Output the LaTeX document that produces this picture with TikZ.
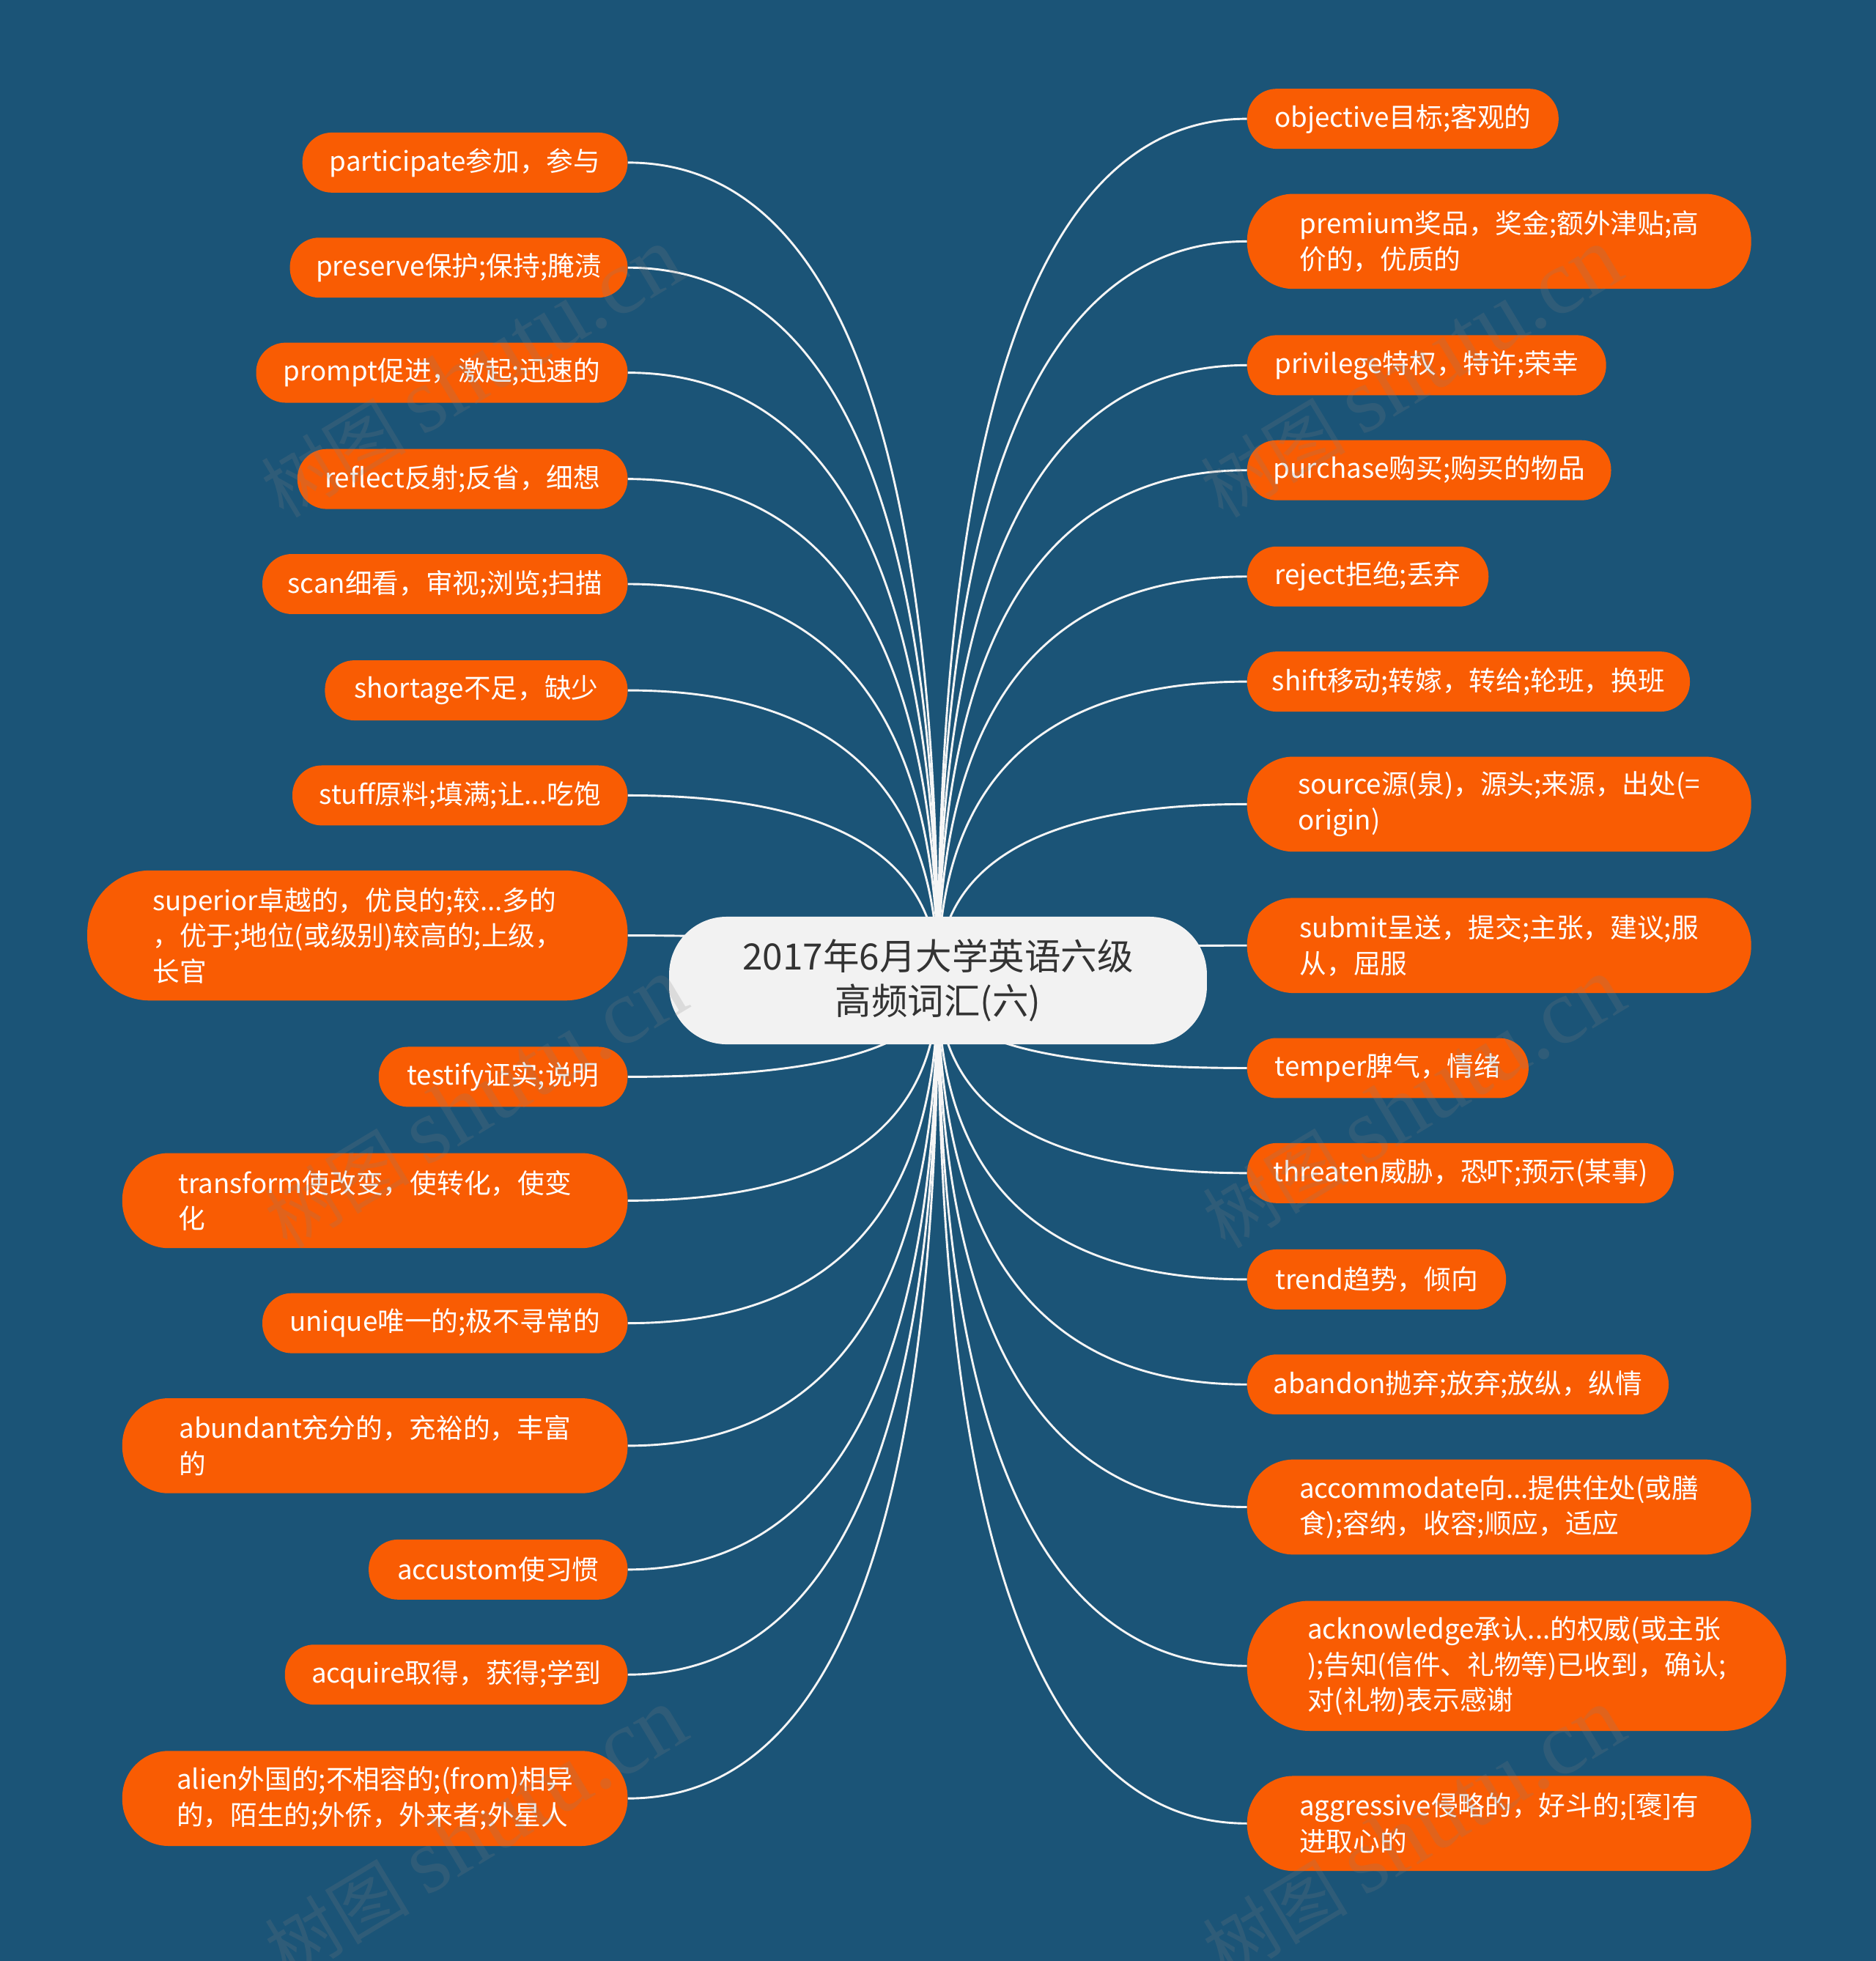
\documentclass[tikz,border=0pt]{standalone}
\usepackage{fontspec}
\setmainfont{Noto Sans CJK SC}
\newfontfamily\wmserif{Liberation Serif}
\usetikzlibrary{calc}
\definecolor{bgblue}{HTML}{1B5477}
\definecolor{leaforange}{HTML}{F95C03}
\definecolor{rootgray}{HTML}{F2F2F2}
\definecolor{roottext}{HTML}{333333}
\definecolor{linecol}{HTML}{F5F5F5}
\pgfdeclarelayer{bglayer}
\pgfdeclarelayer{edgelayer}
\pgfsetlayers{bglayer,edgelayer,main}
\begin{document}
\begin{tikzpicture}[x=1pt,y=-1pt,
  leaf/.style={fill=leaforange, text=white, inner sep=0pt, align=left,
    font=\fontsize{21.5}{28.5}\selectfont},
  one/.style={leaf, minimum height=48pt, rounded corners=23.5pt},
  two/.style={leaf, minimum height=76pt, rounded corners=37pt},
  three/.style={leaf, minimum height=104pt, rounded corners=50pt},
  root/.style={fill=rootgray, text=roottext, inner sep=0pt, align=center,
    minimum width=430pt, minimum height=102pt, rounded corners=46pt,
    font=\fontsize{29}{36}\selectfont},
  link/.style={draw=linecol, line width=1.7pt},
  wm/.style={text=gray, opacity=0.2, inner sep=0pt, font=\fontsize{58}{64}\selectfont}
]
\useasboundingbox (0,0) rectangle (1500,1568);
\begin{pgfonlayer}{bglayer}
\fill[bgblue] (0,0) rectangle (1500,1568);
\end{pgfonlayer}

\node[root] (root) at (750,784) {2017年6月大学英语六级\\高频词汇(六)};

% left nodes
\node[one, minimum width=260pt, anchor=east] (L1) at (502,130) {participate参加，参与};
\node[one, minimum width=270pt, anchor=east] (L2) at (502,214) {preserve保护;保持;腌渍};
\node[one, minimum width=297pt, anchor=east] (L3) at (502,298) {prompt促进，激起;迅速的};
\node[one, minimum width=264pt, anchor=east] (L4) at (502,383) {reflect反射;反省，细想};
\node[one, minimum width=292pt, anchor=east] (L5) at (502,467) {scan细看，审视;浏览;扫描};
\node[one, minimum width=242pt, anchor=east] (L6) at (502,552) {shortage不足，缺少};
\node[one, minimum width=268pt, anchor=east] (L7) at (502,636) {stuff原料;填满;让...吃饱};
\node[three, minimum width=432pt, anchor=east] (L8) at (502,748) {superior卓越的，优良的;较...多的\\，优于;地位(或级别)较高的;上级，\\长官};
\node[one, minimum width=199pt, anchor=east] (L9) at (502,861) {testify证实;说明};
\node[two, minimum width=404pt, anchor=east] (L10) at (502,960) {transform使改变，使转化，使变\\化};
\node[one, minimum width=292pt, anchor=east] (L11) at (502,1058) {unique唯一的;极不寻常的};
\node[two, minimum width=404pt, anchor=east] (L12) at (502,1156) {abundant充分的，充裕的，丰富\\的};
\node[one, minimum width=207pt, anchor=east] (L13) at (502,1255) {accustom使习惯};
\node[one, minimum width=274pt, anchor=east] (L14) at (502,1339) {acquire取得，获得;学到};
\node[two, minimum width=404pt, anchor=east] (L15) at (502,1438) {alien外国的;不相容的;(from)相异\\的，陌生的;外侨，外来者;外星人};

% right nodes
\node[one, minimum width=249pt, anchor=west] (R1) at (997,95) {objective目标;客观的};
\node[two, minimum width=403pt, anchor=west] (R2) at (997,193) {premium奖品，奖金;额外津贴;高\\价的，优质的};
\node[one, minimum width=287pt, anchor=west] (R3) at (997,292) {privilege特权，特许;荣幸};
\node[one, minimum width=291pt, anchor=west] (R4) at (997,376) {purchase购买;购买的物品};
\node[one, minimum width=193pt, anchor=west] (R5) at (997,461) {reject拒绝;丢弃};
\node[one, minimum width=354pt, anchor=west] (R6) at (997,545) {shift移动;转嫁，转给;轮班，换班};
\node[two, minimum width=403pt, anchor=west] (R7) at (997,643) {source源(泉)，源头;来源，出处(=\\origin)};
\node[two, minimum width=403pt, anchor=west] (R8) at (997,756) {submit呈送，提交;主张，建议;服\\从，屈服};
\node[one, minimum width=225pt, anchor=west] (R9) at (997,854) {temper脾气，情绪};
\node[one, minimum width=341pt, anchor=west] (R10) at (997,938) {threaten威胁，恐吓;预示(某事)};
\node[one, minimum width=207pt, anchor=west] (R11) at (997,1023) {trend趋势，倾向};
\node[one, minimum width=337pt, anchor=west] (R12) at (997,1107) {abandon抛弃;放弃;放纵，纵情};
\node[two, minimum width=403pt, anchor=west] (R13) at (997,1205) {accommodate向...提供住处(或膳\\食);容纳，收容;顺应，适应};
\node[three, minimum width=431pt, anchor=west] (R14) at (997,1332) {acknowledge承认...的权威(或主张\\);告知(信件、礼物等)已收到，确认;\\对(礼物)表示感谢};
\node[two, minimum width=403pt, anchor=west] (R15) at (997,1458) {aggressive侵略的，好斗的;[褒]有\\进取心的};

\begin{pgfonlayer}{edgelayer}
\foreach \n in {L1,L2,L3,L4,L5,L6,L7,L8,L9,L10,L11,L12,L13,L14,L15} {
  \coordinate (k) at (root.center |- \n.east);
  \draw[link] (\n.east) .. controls ($(\n.east)!0.6667!(k)$) and ($(root.center)!0.6667!(k)$) .. (root.center);
}
\foreach \n in {R1,R2,R3,R4,R5,R6,R7,R8,R9,R10,R11,R12,R13,R14,R15} {
  \coordinate (k) at (root.center |- \n.west);
  \draw[link] (\n.west) .. controls ($(\n.west)!0.6667!(k)$) and ($(root.center)!0.6667!(k)$) .. (root.center);
}
\end{pgfonlayer}

% watermarks
\node[wm, rotate=31] (w1) at (377,298) {树图 {\wmserif\fontsize{74}{78}\selectfont shutu.cn}};
\node[wm, rotate=31] (w2) at (380,882) {树图 {\wmserif\fontsize{74}{78}\selectfont shutu.cn}};
\node[wm, rotate=31] (w3) at (380,1466) {树图 {\wmserif\fontsize{74}{78}\selectfont shutu.cn}};
\node[wm, rotate=31] (w4) at (1128,298) {树图 {\wmserif\fontsize{74}{78}\selectfont shutu.cn}};
\node[wm, rotate=31] (w5) at (1130,882) {树图 {\wmserif\fontsize{74}{78}\selectfont shutu.cn}};
\node[wm, rotate=31] (w6) at (1130,1466) {树图 {\wmserif\fontsize{74}{78}\selectfont shutu.cn}};
\end{tikzpicture}
\end{document}
